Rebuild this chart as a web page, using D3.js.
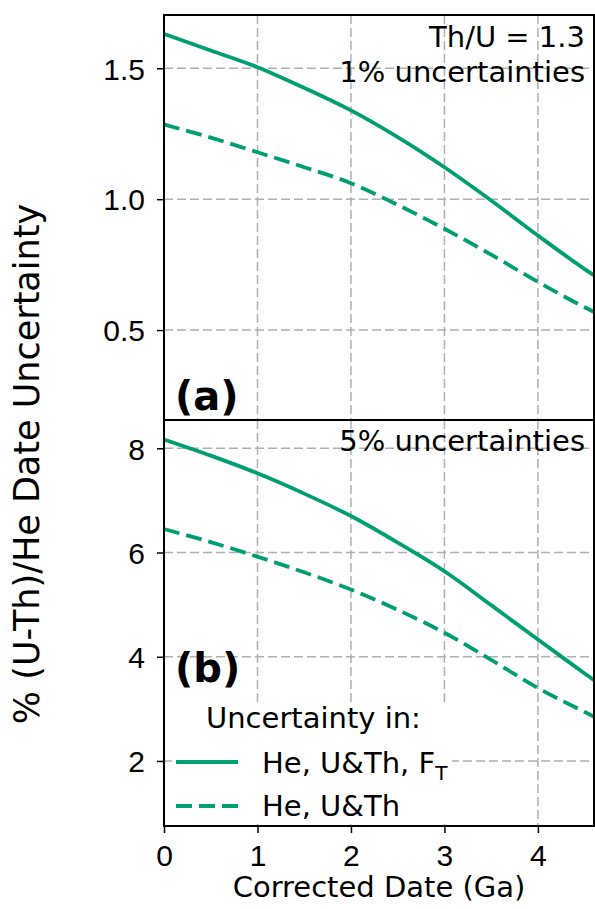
<!DOCTYPE html>
<html>
<head>
<meta charset="utf-8">
<script src="https://cdn.jsdelivr.net/npm/d3@7"></script>
<style>
    body { margin: 0; background: #fff; }
    svg { display: block; font-family: "DejaVu Sans", sans-serif; }
    .grid line { stroke: #b0b0b0; stroke-width: 1.5; stroke-dasharray: 9 4; }
    .tick text { font-size: 30px; fill: #000; }
    .tick line { stroke: #000; stroke-width: 1.5; }
</style>
</head>
<body>
<div id="chart"></div>
<script>
"use strict";

// corrected date (Ga)
const dates = [0, 0.5, 1, 1.5, 2, 2.5, 3, 3.5, 4, 4.5, 4.6];
// (a) 1% uncertainties, Th/U = 1.3
const onePctHeUThFt = [1.631, 1.568, 1.504, 1.425, 1.339, 1.237, 1.122, 0.995, 0.861, 0.733, 0.709];
const onePctHeUTh = [1.285, 1.235, 1.179, 1.122, 1.061, 0.978, 0.887, 0.788, 0.684, 0.587, 0.569];
// (b) 5% uncertainties
const fivePctHeUThFt = [8.17, 7.86, 7.52, 7.13, 6.70, 6.19, 5.64, 4.99, 4.33, 3.68, 3.55];
const fivePctHeUTh = [6.45, 6.20, 5.92, 5.62, 5.29, 4.90, 4.46, 3.94, 3.40, 2.94, 2.85];

const xTicks = [0, 1, 2, 3, 4];
const yTicksA = [0.5, 1.0, 1.5];
const yTicksB = [2, 4, 6, 8];

const green = "#009e73";

function main() {
    var svg = d3.select("#chart").append("svg")
        .attr("width", 595).attr("height", 909);

    var left = 164, right = 594;
    var xScale = d3.scaleLinear().domain([0, 4.6]).range([left, right]);

    var panelA = {
        top: 15, bottom: 420,
        domain: [0.1565, 1.7034],
        ticks: yTicksA, fmt: d3.format(".1f"),
        solid: onePctHeUThFt, dashed: onePctHeUTh
    };
    var panelB = {
        top: 420, bottom: 826,
        domain: [0.752, 8.543],
        ticks: yTicksB, fmt: d3.format("d"),
        solid: fivePctHeUThFt, dashed: fivePctHeUTh
    };

    drawPanel(svg, panelA, xScale, false);
    drawPanel(svg, panelB, xScale, true);

    // annotations
    svg.append("text").attr("x", 585).attr("y", 47)
        .attr("text-anchor", "end").style("font-size", "29px").text("Th/U = 1.3");
    svg.append("text").attr("x", 585).attr("y", 82)
        .attr("text-anchor", "end").style("font-size", "29px").text("1% uncertainties");
    svg.append("text").attr("x", 585).attr("y", 451)
        .attr("text-anchor", "end").style("font-size", "29px").text("5% uncertainties");
    svg.append("text").attr("x", 175).attr("y", 410)
        .style("font-size", "40px").style("font-weight", "bold").text("(a)");
    svg.append("text").attr("x", 175).attr("y", 682)
        .style("font-size", "40px").style("font-weight", "bold").text("(b)");

    // legend
    var lg = svg.append("g");
    lg.append("rect").attr("x", 172).attr("y", 705).attr("width", 280).attr("height", 119)
        .attr("fill", "#fff");
    lg.append("text").attr("x", 206).attr("y", 728)
        .style("font-size", "29px").text("Uncertainty in:");
    lg.append("line").attr("x1", 176).attr("x2", 238).attr("y1", 762).attr("y2", 762)
        .attr("stroke", green).attr("stroke-width", 3.8);
    lg.append("line").attr("x1", 176).attr("x2", 238).attr("y1", 806).attr("y2", 806)
        .attr("stroke", green).attr("stroke-width", 3.8).attr("stroke-dasharray", "16 7");
    var t1 = lg.append("text").attr("x", 262).attr("y", 773).style("font-size", "29px");
    t1.append("tspan").text("He, U&Th, F");
    t1.append("tspan").attr("dy", 7).style("font-size", "20px").text("T");
    lg.append("text").attr("x", 262).attr("y", 816)
        .style("font-size", "29px").text("He, U&Th");

    // x axis (bottom panel only)
    var xAxis = d3.axisBottom(xScale).tickValues(xTicks).tickSize(7).tickPadding(12)
        .tickFormat(d3.format("d"));
    var gx = svg.append("g").attr("transform", "translate(0," + panelB.bottom + ")").call(xAxis);
    gx.select(".domain").remove();

    svg.append("text").attr("x", (left + right) / 2).attr("y", 897)
        .attr("text-anchor", "middle").style("font-size", "29px").text("Corrected Date (Ga)");
    svg.append("text").attr("transform", "translate(39,464) rotate(-90)")
        .attr("text-anchor", "middle").style("font-size", "35px").text("% (U-Th)/He Date Uncertainty");
}

function drawPanel(svg, panel, xScale, isBottom) {
    var yScale = d3.scaleLinear().domain(panel.domain).range([panel.bottom, panel.top]);
    var x0 = xScale.range()[0], x1 = xScale.range()[1];

    var grid = svg.append("g").attr("class", "grid");
    grid.selectAll("line.gx").data(xTicks.filter(function (d) { return d > 0; }))
        .enter().append("line")
        .attr("x1", function (d) { return xScale(d); })
        .attr("x2", function (d) { return xScale(d); })
        .attr("y1", panel.top).attr("y2", panel.bottom);
    grid.selectAll("line.gy").data(panel.ticks)
        .enter().append("line")
        .attr("x1", x0).attr("x2", x1)
        .attr("y1", function (d) { return yScale(d); })
        .attr("y2", function (d) { return yScale(d); });

    var clipId = "clip" + (isBottom ? "b" : "a");
    svg.append("clipPath").attr("id", clipId).append("rect")
        .attr("x", x0).attr("y", panel.top).attr("width", x1 - x0).attr("height", panel.bottom - panel.top);

    var line = d3.line()
        .x(function (d, i) { return xScale(dates[i]); })
        .y(function (d) { return yScale(d); })
        .curve(d3.curveMonotoneX);

    var g = svg.append("g").attr("clip-path", "url(#" + clipId + ")");
    g.append("path").datum(panel.solid)
        .attr("d", line).attr("fill", "none")
        .attr("stroke", green).attr("stroke-width", 3.8);
    g.append("path").datum(panel.dashed)
        .attr("d", line).attr("fill", "none")
        .attr("stroke", green).attr("stroke-width", 3.8).attr("stroke-dasharray", "16 7");

    var yAxis = d3.axisLeft(yScale).tickValues(panel.ticks).tickSize(7).tickPadding(12)
        .tickFormat(panel.fmt);
    var gy = svg.append("g").attr("transform", "translate(" + x0 + ",0)").call(yAxis);
    gy.select(".domain").remove();
    gy.selectAll(".tick text").attr("dy", "0.36em");

    svg.append("rect").attr("x", x0).attr("y", panel.top)
        .attr("width", x1 - x0).attr("height", panel.bottom - panel.top)
        .attr("fill", "none").attr("stroke", "#000").attr("stroke-width", 2);
    return yScale;
}

main();
</script>
</body>
</html>
